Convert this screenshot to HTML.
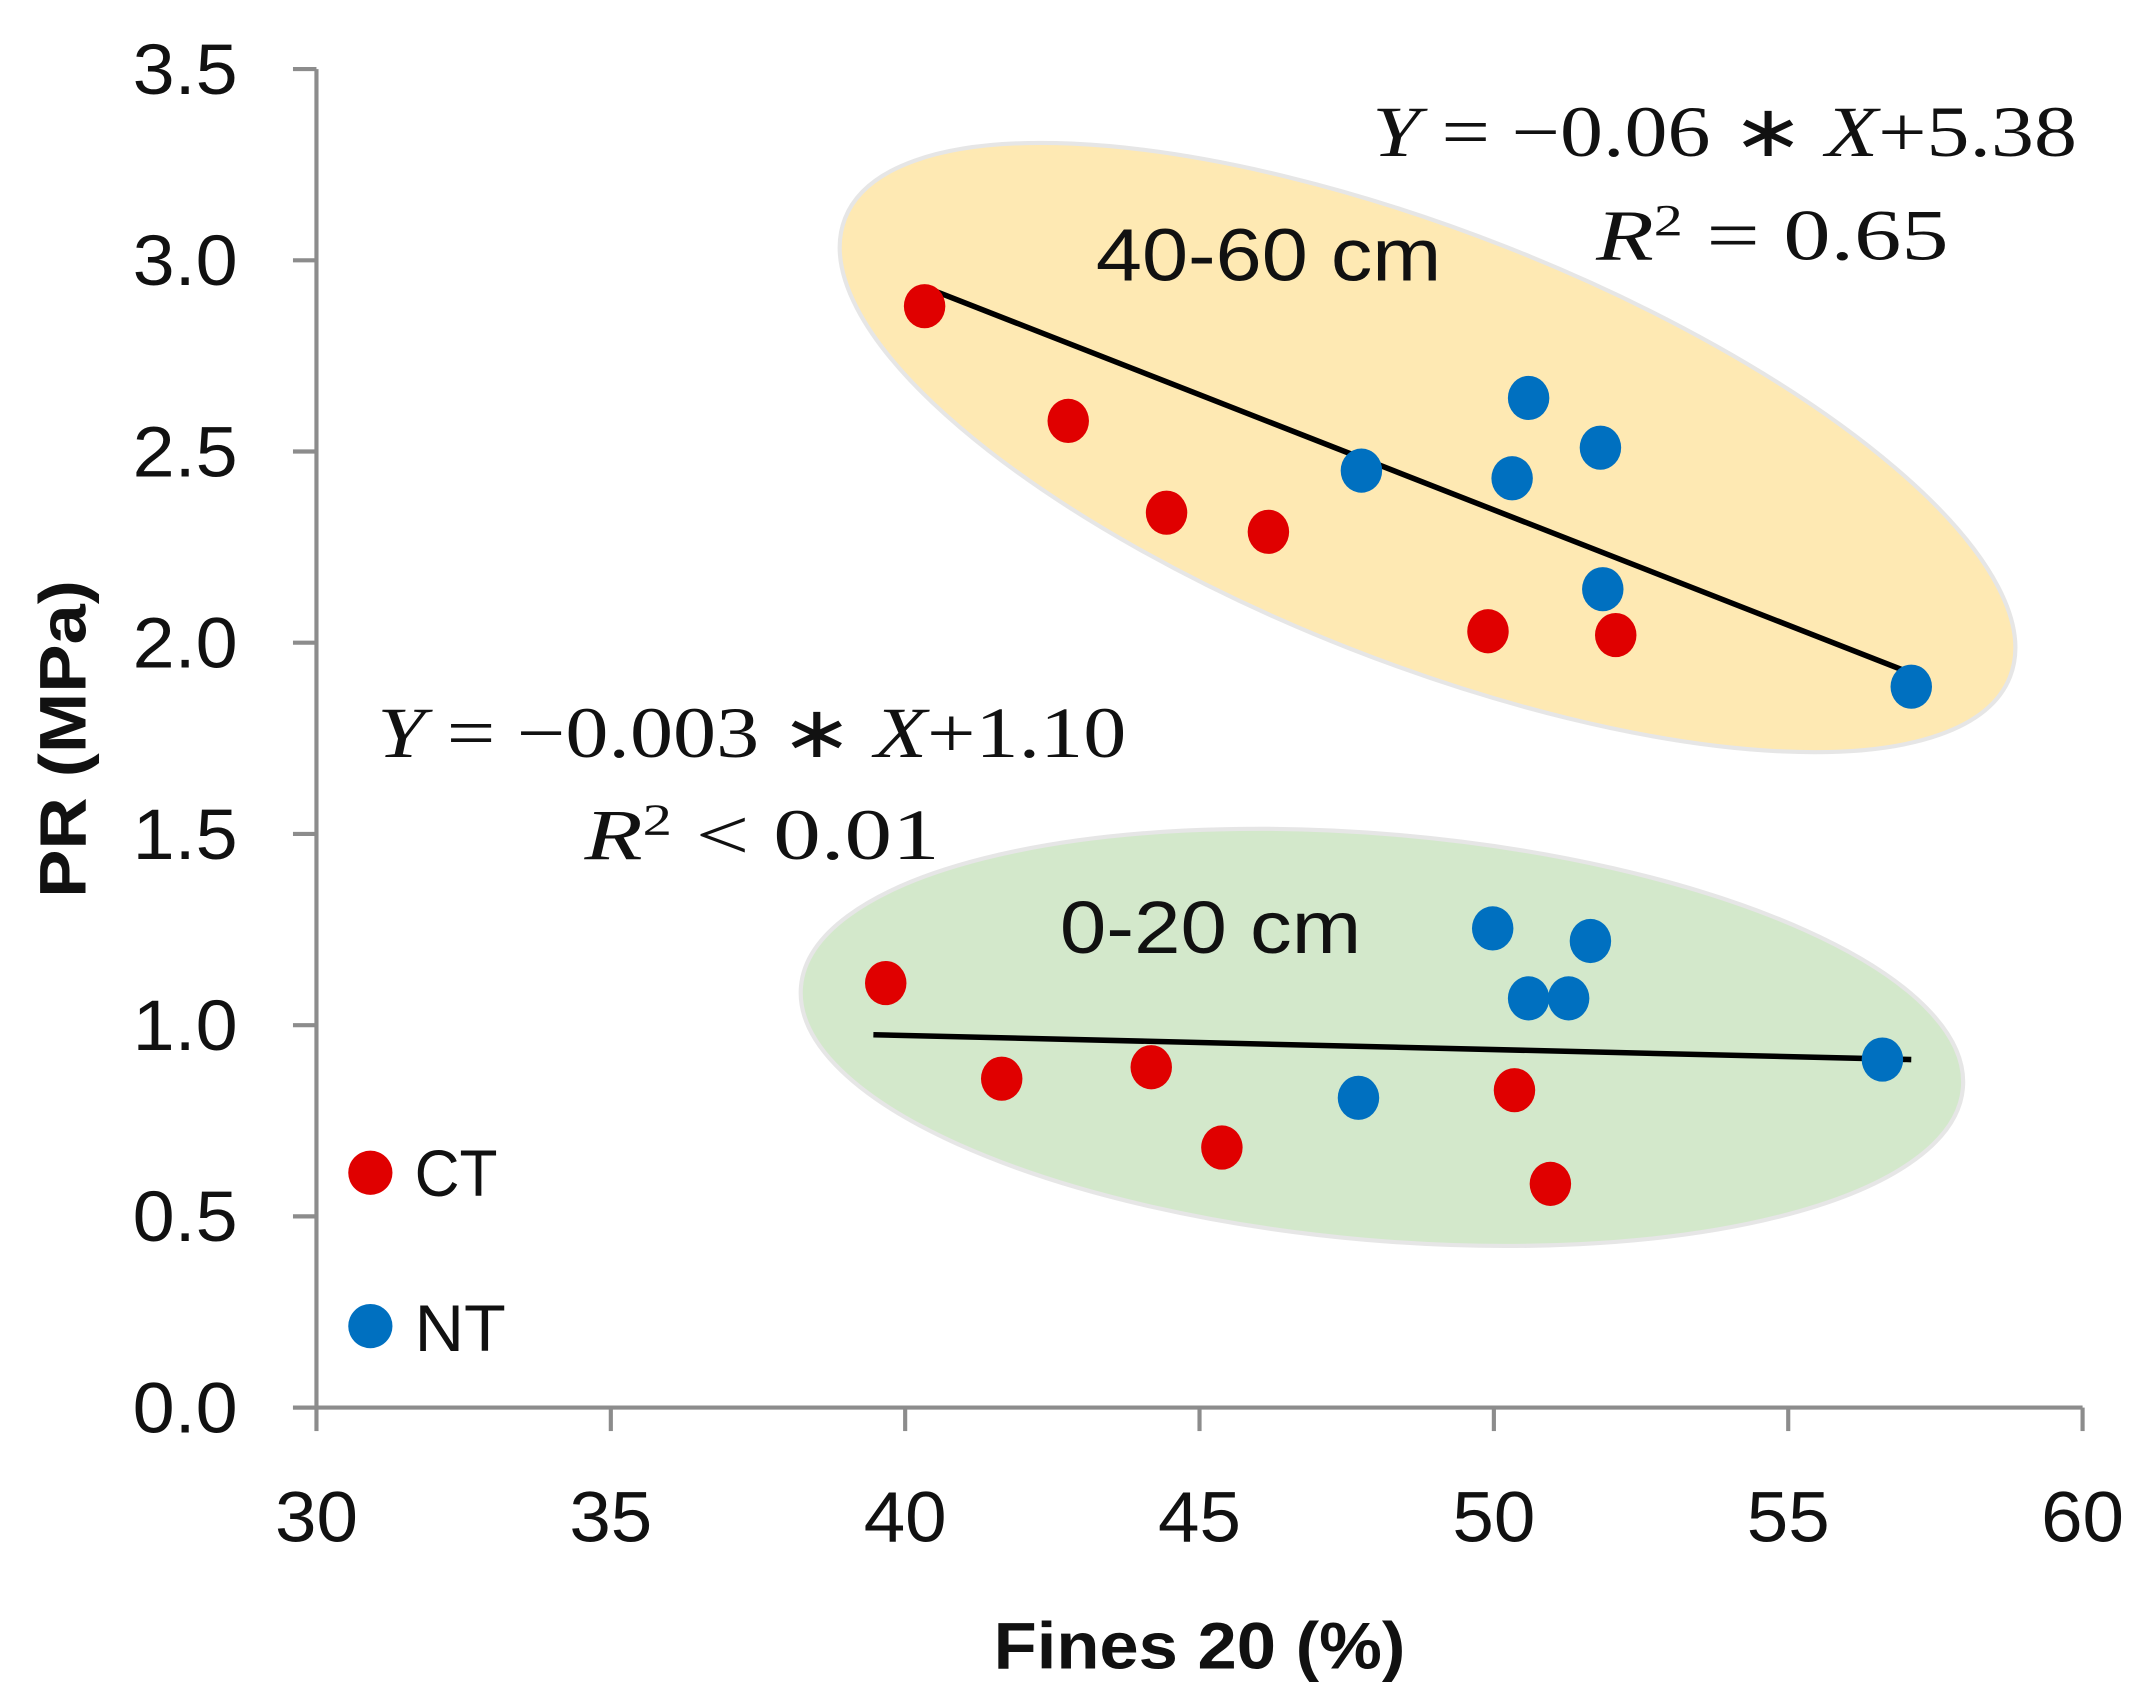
<!DOCTYPE html>
<html><head><meta charset="utf-8">
<style>html,body{margin:0;padding:0;background:#fff}svg{display:block}</style>
</head><body>
<svg width="2142" height="1688" viewBox="0 0 1550 1222" preserveAspectRatio="none" xmlns="http://www.w3.org/2000/svg">
<g id="ellipses"></g>
<g id="axes"></g>
<g id="lines"></g>
<g id="pts"></g>
<g id="texts" font-family="Liberation Serif, serif" font-size="52" fill="#111">
 <text x="993" y="113" textLength="510" lengthAdjust="spacingAndGlyphs"><tspan font-style="italic">Y</tspan> = −0.06 ∗ <tspan font-style="italic">X</tspan>+5.38</text>
 <text x="1155" y="188" textLength="255" lengthAdjust="spacingAndGlyphs"><tspan font-style="italic">R</tspan><tspan dy="-18" font-size="32">2</tspan><tspan dy="18"> = 0.65</tspan></text>
 <text x="273" y="548" textLength="542" lengthAdjust="spacingAndGlyphs"><tspan font-style="italic">Y</tspan> = −0.003 ∗ <tspan font-style="italic">X</tspan>+1.10</text>
 <text x="423" y="622" textLength="257" lengthAdjust="spacingAndGlyphs"><tspan font-style="italic">R</tspan><tspan dy="-18" font-size="32">2</tspan><tspan dy="18"> &lt; 0.01</tspan></text>
 <text x="793" y="203" font-family="Liberation Sans, sans-serif" font-size="54" textLength="250" lengthAdjust="spacingAndGlyphs">40-60 cm</text>
 <text x="767" y="690" font-family="Liberation Sans, sans-serif" font-size="54" textLength="218" lengthAdjust="spacingAndGlyphs">0-20 cm</text>
 <text x="868" y="1208" text-anchor="middle" font-family="Liberation Sans, sans-serif" font-weight="bold" font-size="48" textLength="298" lengthAdjust="spacingAndGlyphs">Fines 20 (%)</text>
 <text transform="translate(62,535) rotate(-90)" text-anchor="middle" font-family="Liberation Sans, sans-serif" font-weight="bold" font-size="48" textLength="230" lengthAdjust="spacingAndGlyphs">PR (MPa)</text>
 <g font-family="Liberation Sans, sans-serif" font-size="48">
  <circle cx="268" cy="849" r="16" fill="#e00000"/>
  <text x="300" y="866" textLength="60" lengthAdjust="spacingAndGlyphs">CT</text>
  <circle cx="268" cy="960" r="16" fill="#0070c0"/>
  <text x="300" y="978" textLength="66" lengthAdjust="spacingAndGlyphs">NT</text>
 </g>
</g>
<script>
const xTicks=[30,35,40,45,50,55,60];
const yTicks=[0,0.5,1,1.5,2,2.5,3,3.5];
const yTickLabels=["0.0","0.5","1.0","1.5","2.0","2.5","3.0","3.5"];
const ctX=[40.33,42.77,44.44,46.17,49.9,52.07,39.67,41.64,44.18,45.38,50.35,50.96];
const ctY=[2.88,2.58,2.34,2.29,2.03,2.02,1.11,0.86,0.89,0.68,0.83,0.585];
const ntX=[47.75,50.59,50.31,51.81,51.85,57.09,49.98,51.64,50.59,51.27,47.7,56.6];
const ntY=[2.45,2.64,2.43,2.51,2.14,1.885,1.253,1.22,1.07,1.07,0.81,0.91];
const trendTopX=[40.33,57.09], trendTopY=[2.93,1.92];
const trendBotX=[39.46,57.09], trendBotY=[0.975,0.91];
const NS="http://www.w3.org/2000/svg";
const sx=v=>229+(v-30)*(1507-229)/30;
const sy=v=>1019-v*(1019-50)/3.5;
function mk(tag,attrs,parent){const e=document.createElementNS(NS,tag);for(const k in attrs)e.setAttribute(k,attrs[k]);document.getElementById(parent).appendChild(e);return e;}
let e1=mk('ellipse',{cx:1033,cy:324,rx:453,ry:156,transform:'rotate(21.5 1033 324)',fill:'#fee9b3',stroke:'#e6e6e6','stroke-width':3},'ellipses');


let e2=mk('ellipse',{cx:1000,cy:751,rx:422,ry:147,transform:'rotate(5 1000 751)',fill:'#d3e8cb',stroke:'#e6e6e6','stroke-width':3},'ellipses');


let ya=mk('line',{x1:229,y1:sy(3.5),x2:229,y2:sy(0),stroke:'#8c8c8c','stroke-width':3},'axes');


let xa=mk('line',{x1:212,y1:sy(0),x2:1507,y2:sy(0),stroke:'#8c8c8c','stroke-width':3},'axes');


xTicks.forEach(v=>{
 let t=mk('line',{x1:sx(v),y1:sy(0),x2:sx(v),y2:sy(0)+17,stroke:'#8c8c8c','stroke-width':3},'axes');
 
 
 let l=mk('text',{x:sx(v),y:1116,'text-anchor':'middle','font-family':'Liberation Sans, sans-serif','font-size':52,fill:'#111',textLength:60,lengthAdjust:'spacingAndGlyphs'},'axes');
 l.textContent=String(v);
 
 
});
yTicks.forEach((v,i)=>{
 let t=mk('line',{x1:212,y1:sy(v),x2:229,y2:sy(v),stroke:'#8c8c8c','stroke-width':3},'axes');
 
 
 let l=mk('text',{x:172,y:sy(v)+18,'text-anchor':'end','font-family':'Liberation Sans, sans-serif','font-size':52,fill:'#111',textLength:76,lengthAdjust:'spacingAndGlyphs'},'axes');
 l.textContent=yTickLabels[i];
 
 
});
let t1=mk('line',{x1:sx(trendTopX[0]),y1:sy(trendTopY[0]),x2:sx(trendTopX[1]),y2:sy(trendTopY[1]),stroke:'#000','stroke-width':4},'lines');


let t2=mk('line',{x1:sx(trendBotX[0]),y1:sy(trendBotY[0]),x2:sx(trendBotX[1]),y2:sy(trendBotY[1]),stroke:'#000','stroke-width':4},'lines');


ctX.forEach((x,i)=>{
 let c=mk('ellipse',{cx:sx(x),cy:sy(ctY[i]),rx:15,ry:16,fill:'#e00000'},'pts');
 
 
});
ntX.forEach((x,i)=>{
 let c=mk('ellipse',{cx:sx(x),cy:sy(ntY[i]),rx:15,ry:16,fill:'#0070c0'},'pts');
 
 
});
</script>
</svg>
</body></html>
